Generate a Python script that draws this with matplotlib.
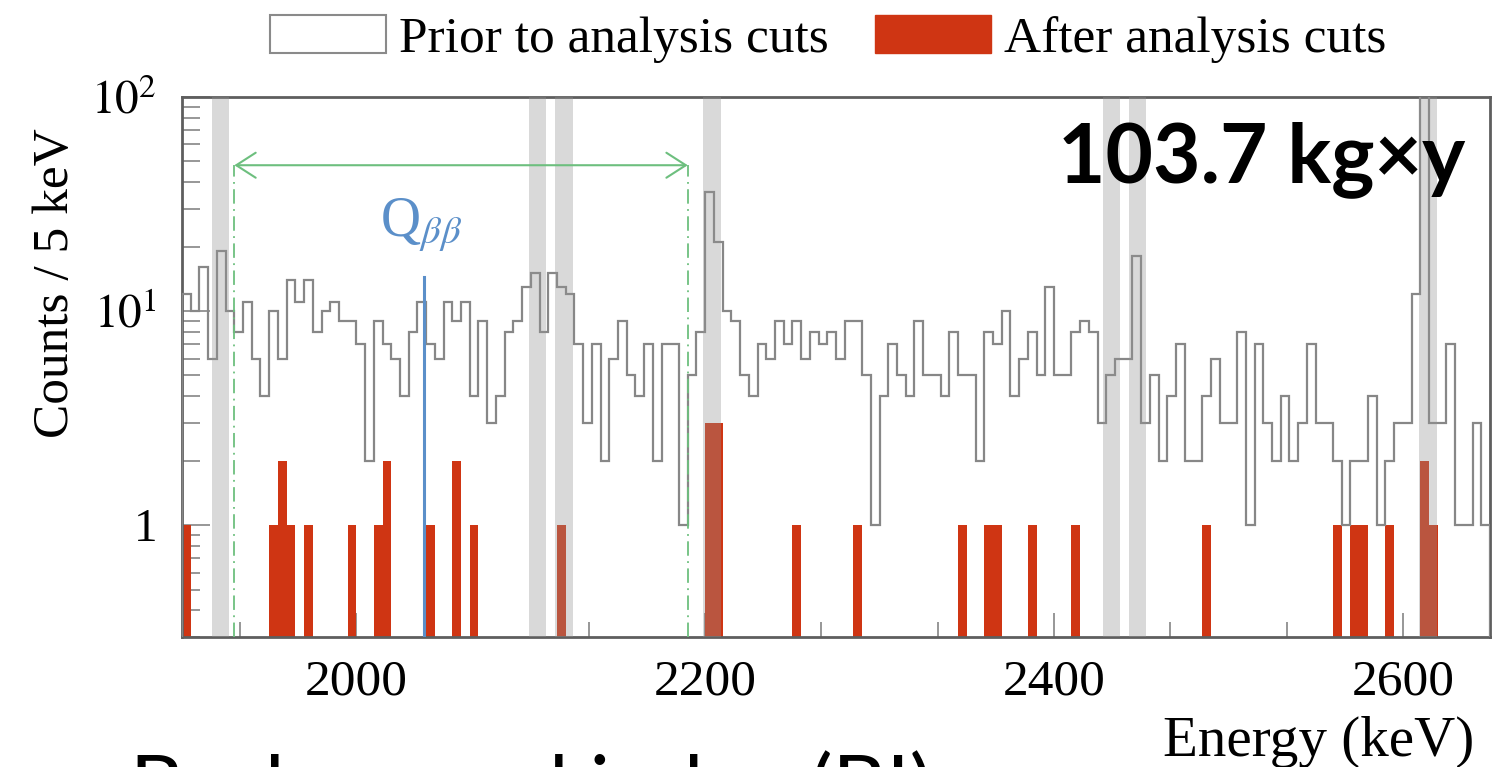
import numpy as np
import matplotlib
matplotlib.use("Agg")
import matplotlib.pyplot as plt
from matplotlib.patches import Patch
from matplotlib.ticker import FixedLocator, NullFormatter, FixedFormatter

# ---- data -----------------------------------------------------------------
bin_width = 5                      # keV
e_min, e_max = 1900, 2650          # keV

# counts per 5 keV bin before analysis cuts (1900 ... 2645 keV, left edges)
prior_counts = [
    12, 10, 16, 6, 19, 10, 8, 11, 6, 4,
    10, 6, 14, 11, 14, 8, 10, 11, 9, 9,
    7, 2, 9, 7, 6, 4, 8, 11, 7, 6,
    11, 9, 11, 4, 9, 3, 4, 8, 9, 13,
    15, 8, 15, 13, 12, 7, 3, 7, 2, 6,
    9, 5, 4, 7, 2, 7, 7, 1, 5, 8,
    36, 21, 10, 9, 5, 4, 7, 6, 9, 7,
    9, 6, 8, 7, 8, 6, 9, 9, 5, 1,
    4, 7, 5, 4, 9, 5, 5, 4, 8, 5,
    5, 2, 8, 7, 10, 4, 6, 8, 5, 13,
    5, 5, 8, 9, 8, 3, 5, 6, 6, 18,
    3, 5, 2, 4, 7, 2, 2, 4, 6, 3,
    3, 8, 1, 7, 3, 2, 4, 2, 3, 7,
    3, 3, 2, 1, 2, 2, 4, 1, 2, 3,
    3, 12, 150, 3, 3, 7, 1, 1, 3, 1,
]

# non-empty bins after analysis cuts (bin left edge in keV, counts)
after_energy = [1900, 1950, 1955, 1960, 1970, 1995, 2010, 2015, 2040, 2055,
                2065, 2115, 2200, 2205, 2250, 2285, 2345, 2360, 2365, 2385,
                2410, 2485, 2560, 2570, 2575, 2590, 2610, 2615]
after_counts = [1, 1, 2, 1, 1, 1, 1, 2, 1, 2,
                1, 1, 3, 3, 1, 1, 1, 1, 1, 1,
                1, 1, 1, 1, 1, 1, 2, 1]

# excluded gamma-line windows (keV)
band_lo = [1917, 2099, 2114, 2199, 2428, 2443, 2609.5]
band_hi = [1927, 2109, 2124, 2209, 2438, 2453, 2619.5]

q_bb = 2039                        # keV
window = (1930, 2190)              # analysis window, keV
window_y = 48
q_line_top = 14.5

x_major = [2000, 2200, 2400, 2600]
x_minor = [1933.33, 2066.67, 2133.33, 2266.67, 2333.33, 2466.67, 2533.33]
y_major = [1, 10, 100]
y_major_labels = ["1", r"$10^{1}$", r"$10^{2}$"]

# ---- style ----------------------------------------------------------------
plt.rcParams["font.family"] = ["Liberation Serif", "DejaVu Serif"]
plt.rcParams["mathtext.fontset"] = "stix"

c_prior = "#878787"
c_after = "#cf3513"
c_band = "#939393"
c_blue = "#5b8fc9"
c_green = "#6dbf7e"
c_frame = "#5e5e5e"

W, H = 1502, 767
fig = plt.figure(figsize=(W / 100, H / 100), dpi=100)
ax = fig.add_axes([182 / W, 1 - 637 / H, (1490 - 182) / W, (637 - 97) / H])

edges = np.arange(e_min, e_max + bin_width, bin_width)

ax.bar(after_energy, after_counts, width=bin_width, align="edge",
       bottom=1e-3, color=c_after, linewidth=0, zorder=2)
ax.stairs(prior_counts, edges, color=c_prior, linewidth=1.6, zorder=3)

for lo, hi in zip(band_lo, band_hi):
    ax.axvspan(lo, hi, color=c_band, alpha=0.35, linewidth=0, zorder=4)

# Q_bb marker
ax.plot([q_bb, q_bb], [0.3, q_line_top], color=c_blue, lw=2.2, zorder=5)
ax.text(2037, 25, r"Q$_{\beta\beta}$", color=c_blue, fontsize=40,
        ha="center", va="center", zorder=6)

# analysis window
for xe in window:
    ax.plot([xe, xe], [0.3, window_y], color=c_green, lw=1.3,
            ls=(0, (8, 3, 1, 3)), zorder=5)
ax.annotate("", xy=(window[1], window_y), xytext=(window[0], window_y),
            arrowprops=dict(arrowstyle="<->,head_length=0.7,head_width=0.45",
                            color=c_green, lw=1.5, shrinkA=0, shrinkB=0,
                            mutation_scale=20), zorder=5)

ax.text(0.981, 0.843, "103.7 kg×y", transform=ax.transAxes,
        family=["Lato", "DejaVu Sans"], fontweight="bold", fontsize=59,
        ha="right", va="baseline", zorder=7)

# axes
ax.set_xlim(e_min, e_max)
ax.set_yscale("log")
ax.set_ylim(0.3, 100)
ax.xaxis.set_major_locator(FixedLocator(x_major))
ax.xaxis.set_minor_locator(FixedLocator(x_minor))
ax.yaxis.set_major_locator(FixedLocator(y_major))
ax.yaxis.set_major_formatter(FixedFormatter(y_major_labels))
y_minor = [m * 10.0 ** d for d in (-1, 0, 1) for m in range(2, 10)]
ax.yaxis.set_minor_locator(FixedLocator([v for v in y_minor if 0.3 <= v <= 100]))
ax.yaxis.set_minor_formatter(NullFormatter())

ax.tick_params(axis="both", which="both", direction="in", color="#7a7a7a",
               top=False, right=False, width=1.1)
ax.tick_params(axis="x", which="major", length=17, labelsize=37, pad=16)
ax.tick_params(axis="x", which="minor", length=11)
ax.tick_params(axis="y", which="major", length=20, labelsize=34, pad=18)
ax.tick_params(axis="y", which="minor", length=13)

for sp in ax.spines.values():
    sp.set_color(c_frame)
    sp.set_linewidth(2.0)

ax.set_xlabel("Energy (keV)", fontsize=41, loc="right")
ax.xaxis.set_label_coords(0.988, -0.145)
ax.set_ylabel("Counts / 5 keV", fontsize=37, loc="center")
ax.yaxis.set_label_coords(-0.079, 0.655)

handles = [Patch(facecolor="white", edgecolor="#8a8a8a", linewidth=1.5),
           Patch(facecolor=c_after, edgecolor=c_after)]
fig.legend(handles, ["Prior to analysis cuts", "After analysis cuts"],
           loc="center left", bbox_to_anchor=(270 / W, 1 - 39 / H),
           ncol=2, frameon=False, fontsize=37, borderpad=0, borderaxespad=0,
           handlelength=115 / 51, handleheight=38 / 51,
           handletextpad=13 / 51, columnspacing=46 / 51)

# slide heading running off the lower edge
fig.text(130 / W, 1 - 750 / H, "Background index (BI)",
         family=["Lato", "DejaVu Sans"], fontsize=60, ha="left", va="top")

fig.savefig("out.png", dpi=100)
